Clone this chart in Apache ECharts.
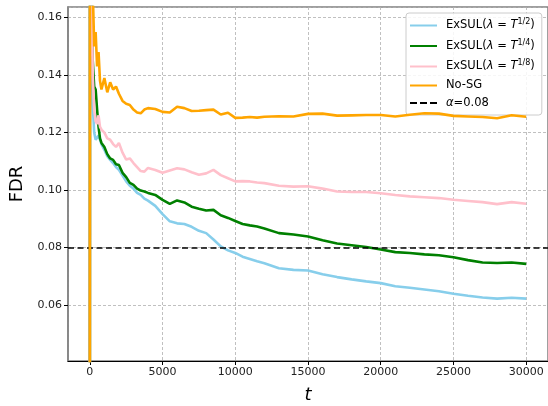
<!DOCTYPE html>
<html>
<head>
<meta charset="utf-8">
<script src="https://cdn.jsdelivr.net/npm/echarts@6/dist/echarts.min.js"></script>
<style>
html,body{margin:0;padding:0;background:#fff;}
#chart{width:548px;height:406px;}
</style>
</head>
<body>
<div id="chart"></div>
<script>
// ---- data ----
var tValues = [0, 30, 100, 200, 300, 400, 500, 600, 700, 800, 1000, 1200, 1400, 1600, 1800, 2000, 2250, 2500, 2750, 3000, 3250, 3500, 3750, 4000, 4500, 5000, 5500, 6000, 6500, 7000, 7500, 8000, 8500, 9000, 9500, 10000, 10500, 11000, 11500, 12000, 13000, 14000, 15000, 16000, 17000, 18000, 19000, 20000, 21000, 22000, 23000, 24000, 25000, 26000, 27000, 28000, 29000, 30000];

var fdrHalf = [0, 0.5, 0.18, 0.13, 0.12, 0.1175, 0.1175, 0.119, 0.1185, 0.116, 0.114, 0.1118, 0.1105, 0.1094, 0.108, 0.107, 0.105, 0.103, 0.1015, 0.1005, 0.099, 0.0983, 0.097, 0.0963, 0.0945, 0.0916, 0.0891, 0.0884, 0.0882, 0.0872, 0.0858, 0.085, 0.0828, 0.0804, 0.079, 0.0781, 0.0768, 0.076, 0.0752, 0.0745, 0.0728, 0.0722, 0.072, 0.0707, 0.0697, 0.0689, 0.0682, 0.0676, 0.0665, 0.066, 0.0654, 0.0648, 0.0639, 0.0632, 0.0626, 0.0622, 0.0625, 0.0622];

var fdrQuarter = [0, 0.5, 0.2, 0.145, 0.136, 0.135, 0.128, 0.122, 0.118, 0.1164, 0.115, 0.1125, 0.111, 0.1105, 0.109, 0.1087, 0.106, 0.1045, 0.1025, 0.1018, 0.1005, 0.0998, 0.0995, 0.099, 0.0983, 0.0966, 0.0952, 0.0964, 0.0957, 0.0942, 0.0935, 0.0929, 0.0931, 0.0912, 0.0903, 0.0892, 0.0882, 0.0877, 0.0873, 0.0866, 0.085, 0.0845, 0.0838, 0.0825, 0.0814, 0.0808, 0.0802, 0.0793, 0.0784, 0.0781, 0.0776, 0.0773, 0.0766, 0.0756, 0.0748, 0.0746, 0.0748, 0.0743];

var fdrEighth = [0, 0.5, 0.2, 0.14, 0.128, 0.124, 0.123, 0.126, 0.122, 0.121, 0.12, 0.118, 0.1175, 0.116, 0.115, 0.1164, 0.113, 0.1106, 0.111, 0.1094, 0.108, 0.1066, 0.1064, 0.1077, 0.107, 0.106, 0.1068, 0.1076, 0.1072, 0.1062, 0.1053, 0.1058, 0.107, 0.1052, 0.1041, 0.103, 0.1031, 0.103, 0.1026, 0.1024, 0.1015, 0.1012, 0.1013, 0.1005, 0.0995, 0.0993, 0.0993, 0.0989, 0.0983, 0.0978, 0.0975, 0.0972, 0.0966, 0.0962, 0.0958, 0.0951, 0.0958, 0.0952];

var fdrNoSG = [0, 0.5, 0.25, 0.17, 0.15, 0.155, 0.143, 0.148, 0.138, 0.135, 0.139, 0.134, 0.1375, 0.135, 0.136, 0.1335, 0.131, 0.13, 0.1296, 0.128, 0.127, 0.1267, 0.128, 0.1285, 0.1282, 0.1272, 0.127, 0.129, 0.1285, 0.1275, 0.1276, 0.1278, 0.128, 0.1263, 0.1269, 0.1251, 0.1252, 0.1254, 0.1252, 0.1255, 0.1257, 0.1256, 0.1265, 0.1266, 0.1259, 0.126, 0.1261, 0.1261, 0.1256, 0.1262, 0.1267, 0.1266, 0.1258, 0.1256, 0.1254, 0.125, 0.126, 0.1255];

var alphaLevel = 0.08;

var seriesNames = ['ExSUL(λ=T^1/2)', 'ExSUL(λ=T^1/4)', 'ExSUL(λ=T^1/8)', 'No-SG', 'α=0.08'];
var seriesColors = ['#87CEEB', '#008000', '#FFC0CB', '#FFA500', '#000000'];
var legendRich = [
  '{n|ExSUL(}{i|λ}{n| = }{i|T}{s|1/2}{n|)}',
  '{n|ExSUL(}{i|λ}{n| = }{i|T}{s|1/4}{n|)}',
  '{n|ExSUL(}{i|λ}{n| = }{i|T}{s|1/8}{n|)}',
  '{n|No-SG}',
  '{i|α}{n|=0.08}'
];
var xTickInterval = 5000;

// ---- build chart ----
function pairs(vals) {
  return tValues.map(function (t, i) { return [t, vals[i]]; });
}
var allVals = [fdrHalf, fdrQuarter, fdrEighth, fdrNoSG];
var FONT = 'DejaVu Sans';

var series = allVals.map(function (vals, k) {
  return {
    name: seriesNames[k],
    type: 'line',
    data: pairs(vals),
    showSymbol: false,
    symbol: 'none',
    color: seriesColors[k],
    lineStyle: { width: 2.6, color: seriesColors[k] },
    clip: true,
    animation: false,
    z: 2 + k
  };
});
series.push({
  name: seriesNames[4],
  type: 'line',
  data: [],
  color: '#000000',
  lineStyle: { color: '#000000', type: [6, 3], width: 1.5 },
  markLine: {
    silent: true,
    symbol: 'none',
    label: { show: false },
    lineStyle: { color: '#000000', type: [6, 3.5], width: 1.5 },
    data: [{ yAxis: alphaLevel }],
    animation: false
  },
  animation: false,
  z: 10
});

var chart = echarts.init(document.getElementById('chart'), null, { renderer: 'canvas' });
chart.setOption({
  animation: false,
  backgroundColor: '#ffffff',
  textStyle: { fontFamily: FONT },
  grid: {
    left: 68, right: 0, top: 7, bottom: 45,
    outerBoundsMode: 'none',
    containLabel: false,
    show: true, borderColor: '#808080', borderWidth: 1.5, backgroundColor: 'transparent'
  },
  legend: {
    orient: 'vertical',
    left: 406, top: 13,
    padding: [5, 7, 6, 4],
    itemGap: 5.5,
    itemWidth: 27, itemHeight: 2,
    backgroundColor: 'rgba(255,255,255,0.85)',
    borderColor: '#cccccc', borderWidth: 1, borderRadius: 3,
    data: seriesNames.map(function (n, k) {
      return {
        name: n,
        icon: k === 4 ? 'path://M0,0h7v2h-7z M10,0h7v2h-7z M20,0h7v2h-7z' : 'rect',
        itemStyle: { color: seriesColors[k] }
      };
    }),
    formatter: function (name) { return legendRich[seriesNames.indexOf(name)]; },
    textStyle: {
      fontFamily: FONT, fontSize: 11.5, color: '#000', padding: [0, 0, 0, 4],
      rich: {
        n: { fontFamily: FONT, fontSize: 11.5, color: '#000', lineHeight: 14 },
        i: { fontFamily: FONT, fontSize: 11.5, fontStyle: 'italic', color: '#000', lineHeight: 14 },
        s: { fontFamily: FONT, fontSize: 8, color: '#000', lineHeight: 14, padding: [0, 0, 7, 0] }
      }
    }
  },
  xAxis: {
    type: 'value',
    min: -1500, max: 31500,
    splitNumber: 7,
    name: 't',
    nameLocation: 'middle',
    nameGap: 25,
    nameTextStyle: { fontFamily: FONT, fontSize: 18, fontStyle: 'italic', color: '#000', verticalAlign: 'top' },
    axisLine: { show: true, onZero: false, lineStyle: { color: '#000', width: 1 } },
    axisTick: { show: true, length: 4, lineStyle: { color: '#000', width: 1 } },
    axisLabel: {
      fontFamily: FONT, fontSize: 11, color: '#222', margin: 6,
      showMinLabel: false, showMaxLabel: false,
      formatter: function (v) { return (v % xTickInterval === 0) ? String(v) : ''; }
    },
    splitLine: { show: true, lineStyle: { color: '#b0b0b0', type: [3, 2], width: 0.8 } }
  },
  yAxis: {
    type: 'value',
    min: 0.0405, max: 0.1637,
    splitNumber: 6,
    name: 'FDR',
    nameLocation: 'middle',
    nameGap: 40,
    nameTextStyle: { fontFamily: FONT, fontSize: 18, color: '#000' },
    axisLine: { show: true, onZero: false, lineStyle: { color: '#808080', width: 1.5 } },
    axisTick: { show: true, length: 4, lineStyle: { color: '#000', width: 1 } },
    axisLabel: {
      fontFamily: FONT, fontSize: 11, color: '#222', margin: 6,
      showMinLabel: false, showMaxLabel: false,
      formatter: function (v) { return v.toFixed(2); }
    },
    splitLine: { show: true, lineStyle: { color: '#b0b0b0', type: [3, 2], width: 0.8 } }
  },
  series: series
});
</script>
</body>
</html>
